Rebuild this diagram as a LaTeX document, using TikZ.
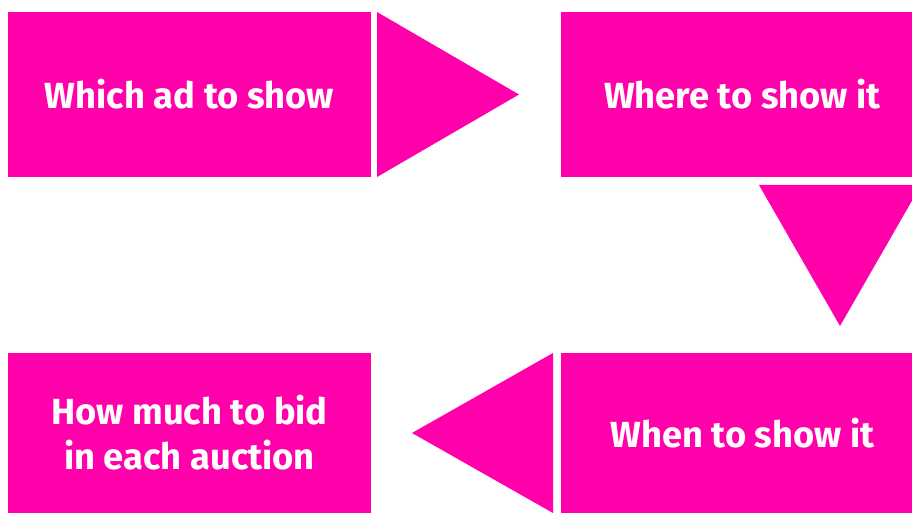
\documentclass[tikz,border=0pt]{standalone}
\usepackage{fontspec}
\setmainfont{Fira Sans}
\definecolor{hotpink}{RGB}{255,0,170}
\begin{document}
\begin{tikzpicture}[x=1pt,y=-1pt,
  box/.style={fill=hotpink, draw=none, text=white, font=\bfseries\fontsize{36.3}{45}\selectfont,
    align=center, inner sep=0pt, outer sep=0pt, anchor=north west},
  arrowtri/.style={fill=hotpink, draw=none}]
\useasboundingbox (0,0) rectangle (912,513);
\node[box, minimum width=363pt, minimum height=165pt] (which) at (8,12) {Which ad to show};
\node[box, minimum width=363pt, minimum height=165pt] (where) at (561,12) {Where to show it};
\node[box, minimum width=363pt, minimum height=160pt] (when) at (561,353) {When to show it};
\node[box, minimum width=363pt, minimum height=160pt] (howmuch) at (8,353) {How much to bid\\in each auction};
% arrow triangles
\coordinate (r1) at (377,12);
\coordinate (r2) at (377,177);
\coordinate (r3) at (519,94.5);
\fill[arrowtri] (r1) -- (r2) -- (r3) -- cycle;
\coordinate (d1) at (759,185);
\coordinate (d2) at (921,185);
\coordinate (d3) at (840,326);
\fill[arrowtri] (d1) -- (d2) -- (d3) -- cycle;
\coordinate (l1) at (553,353);
\coordinate (l2) at (553,513);
\coordinate (l3) at (412,433);
\fill[arrowtri] (l1) -- (l2) -- (l3) -- cycle;
\end{tikzpicture}
\end{document}
